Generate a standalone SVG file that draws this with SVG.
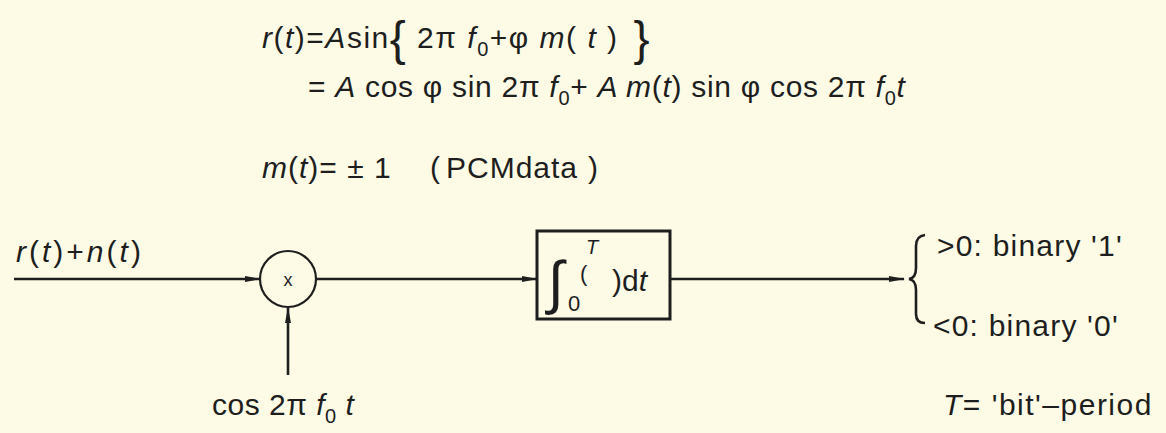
<svg xmlns="http://www.w3.org/2000/svg" width="1166" height="433" viewBox="0 0 1166 433">
<style>
  .t { font-family: "Liberation Sans", "DejaVu Sans", sans-serif; font-size: 30px; fill: #1e1e1e; }
  .i { font-style: italic; }
  .s { font-size: 20px; }
  .ln { stroke: #1e1e1e; stroke-width: 2.6; fill: none; }
</style>
<defs>
  <marker id="ah" viewBox="0 0 16 8" refX="15" refY="4" markerWidth="16" markerHeight="8" markerUnits="userSpaceOnUse" orient="auto">
    <path d="M0,1 L16,4 L0,7 Z" fill="#1e1e1e"/>
  </marker>
</defs>
<rect width="1166" height="433" fill="#fdfbe6"/>

<g id="equations">
  <text class="t" x="262" y="48" letter-spacing="1.5"><tspan class="i">r</tspan>(<tspan class="i">t</tspan>)=<tspan class="i">A</tspan>sin<tspan font-size="48" dy="7">{</tspan><tspan dy="-7"> 2π </tspan><tspan class="i">f</tspan><tspan class="s" dy="8">0</tspan><tspan dy="-8">+φ  </tspan><tspan class="i">m</tspan>( <tspan class="i">t</tspan> )<tspan font-size="48" dy="7"> }</tspan></text>
  <text class="t" x="308" y="97" letter-spacing="0.7">= <tspan class="i">A</tspan> cos φ sin 2π <tspan class="i">f</tspan><tspan class="s" dy="8">0</tspan><tspan dy="-8">+ </tspan><tspan class="i">A m</tspan>(<tspan class="i">t</tspan>) sin φ cos 2π <tspan class="i">f</tspan><tspan class="s" dy="8">0</tspan><tspan dy="-8" class="i">t</tspan></text>
  <text class="t" x="262" y="178" letter-spacing="1"><tspan class="i">m</tspan>(<tspan class="i">t</tspan>)= ± 1<tspan x="430">(</tspan><tspan x="446">PCMdata</tspan><tspan x="588">)</tspan></text>
</g>

<g id="connectors">
  <line class="ln" x1="14" y1="279" x2="260" y2="279" marker-end="url(#ah)"/>
  <line class="ln" x1="288" y1="375" x2="288" y2="308" marker-end="url(#ah)"/>
  <line class="ln" x1="316" y1="279" x2="537" y2="279" marker-end="url(#ah)"/>
  <line class="ln" x1="670" y1="279" x2="904" y2="279" marker-end="url(#ah)"/>
</g>

<g id="input-label">
  <text class="t" x="16" y="262" letter-spacing="3"><tspan class="i">r</tspan>(<tspan class="i">t</tspan>)+<tspan class="i">n</tspan>(<tspan class="i">t</tspan>)</text>
</g>

<g id="multiplier">
  <circle cx="288" cy="279" r="28" fill="none" stroke="#1e1e1e" stroke-width="2.2"/>
  <text class="t" x="288" y="286" text-anchor="middle" style="font-size:18px">x</text>
</g>

<g id="carrier-label">
  <text class="t" x="212" y="415" letter-spacing="0.5">cos 2π <tspan class="i">f</tspan><tspan class="s" dy="8">0</tspan><tspan dy="-8" class="i"> t</tspan></text>
</g>

<g id="integrator">
  <rect x="537" y="231" width="133" height="88" fill="none" stroke="#1e1e1e" stroke-width="3"/>
  <text class="t" x="548" y="302" style="font-size:58px" font-style="italic">∫</text>
  <text class="t" x="586" y="254" style="font-size:20px" font-style="italic">T</text>
  <text class="t" x="568" y="311" style="font-size:22px">0</text>
  <text class="t" x="580" y="281" style="font-size:22px">(</text>
  <text class="t" x="612" y="291">)d<tspan class="i">t</tspan></text>
</g>

<g id="decision">
  <path class="ln" stroke-width="2.2" d="M925,235 Q916,236 916,246 L916,268 Q916,278 909,279 Q916,280 916,290 L916,314 Q916,323 925,323"/>
  <text class="t" x="937" y="256" letter-spacing="1.2">&gt;0: binary '1'</text>
  <text class="t" x="933" y="336" letter-spacing="1.2">&lt;0: binary '0'</text>
  <text class="t" x="943" y="415" letter-spacing="1.5"><tspan class="i">T</tspan>= 'bit'–period</text>
</g>
</svg>
